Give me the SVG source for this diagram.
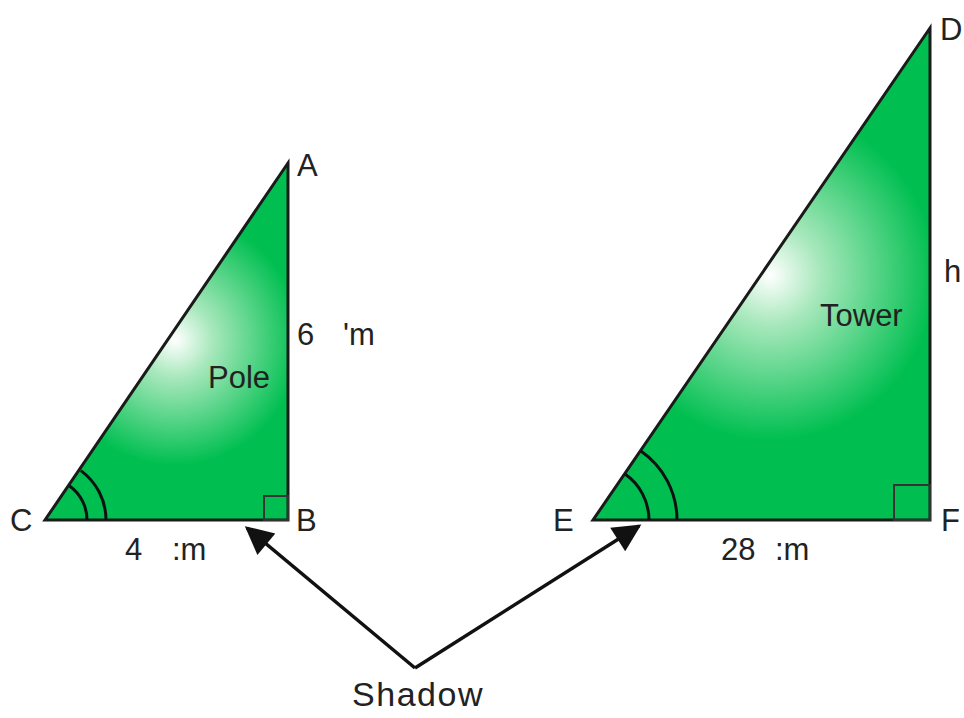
<svg xmlns="http://www.w3.org/2000/svg" width="964" height="718" viewBox="0 0 964 718">
<style>
.tri{stroke:#1a1a1a;stroke-width:3;stroke-linejoin:miter}
.arc{fill:none;stroke:#111;stroke-width:3}
.sq{fill:none;stroke:#333;stroke-width:2}
.lbl{font-family:"Liberation Sans","Open Sans",sans-serif;font-size:31px;fill:#222}
.conn{stroke:#111;stroke-width:3.5;fill:none}
</style>
<defs>
<radialGradient id="gL" cx="175" cy="340" r="125" gradientUnits="userSpaceOnUse">
<stop offset="0" stop-color="#ffffff"/>
<stop offset="0.3" stop-color="#a8e8bc"/>
<stop offset="1" stop-color="#00bf50"/>
</radialGradient>
<radialGradient id="gR" cx="770" cy="275" r="165" gradientUnits="userSpaceOnUse">
<stop offset="0" stop-color="#ffffff"/>
<stop offset="0.3" stop-color="#a8e8bc"/>
<stop offset="1" stop-color="#00bf50"/>
</radialGradient>
<marker id="ah" viewBox="0 0 10 10" refX="9" refY="5" markerWidth="9" markerHeight="8" markerUnits="strokeWidth" orient="auto">
<path d="M0,0 L10,5 L0,10 Z" fill="#111"/>
</marker>
</defs>
<rect width="964" height="718" fill="#fff"/>
<g id="pole">
<polygon class="tri" points="45,520 288,520 288,163" fill="url(#gL)"/>
<rect class="sq" x="264" y="496" width="24" height="24"/>
<path class="arc" d="M87,520 A42,42 0 0 0 69.6,486"/>
<path class="arc" d="M106,520 A61,61 0 0 0 80.8,470.6"/>
<text class="lbl" x="208" y="388">Pole</text>
</g>
<g id="tower">
<polygon class="tri" points="593,520 930,520 930,28" fill="url(#gR)"/>
<rect class="sq" x="894" y="485" width="36" height="35"/>
<path class="arc" d="M649,520 A56,56 0 0 0 624.6,473.8"/>
<path class="arc" d="M677,520 A84,84 0 0 0 640.5,450.7"/>
<text class="lbl" x="820" y="326">Tower</text>
</g>
<g id="labels">
<text class="lbl" x="297" y="176">A</text>
<text class="lbl" x="296" y="531">B</text>
<text class="lbl" x="10" y="531">C</text>
<text class="lbl" x="940" y="40">D</text>
<text class="lbl" x="553" y="531">E</text>
<text class="lbl" x="941" y="531">F</text>
<text class="lbl" x="944" y="282">h</text>
<text class="lbl" x="297" y="345">6</text>
<text class="lbl" x="343" y="345">'m</text>
<text class="lbl" x="125" y="560">4</text>
<text class="lbl" x="172" y="560">:m</text>
<text class="lbl" x="721" y="560">28</text>
<text class="lbl" x="775" y="560">:m</text>
</g>
<g id="shadow">
<text class="lbl" x="418" y="706" text-anchor="middle" style="font-size:34px;letter-spacing:1.5px">Shadow</text>
</g>
<g id="connectors">
<line class="conn" x1="415" y1="668" x2="247" y2="528" marker-end="url(#ah)"/>
<line class="conn" x1="415" y1="668" x2="639" y2="526" marker-end="url(#ah)"/>
</g>
</svg>
